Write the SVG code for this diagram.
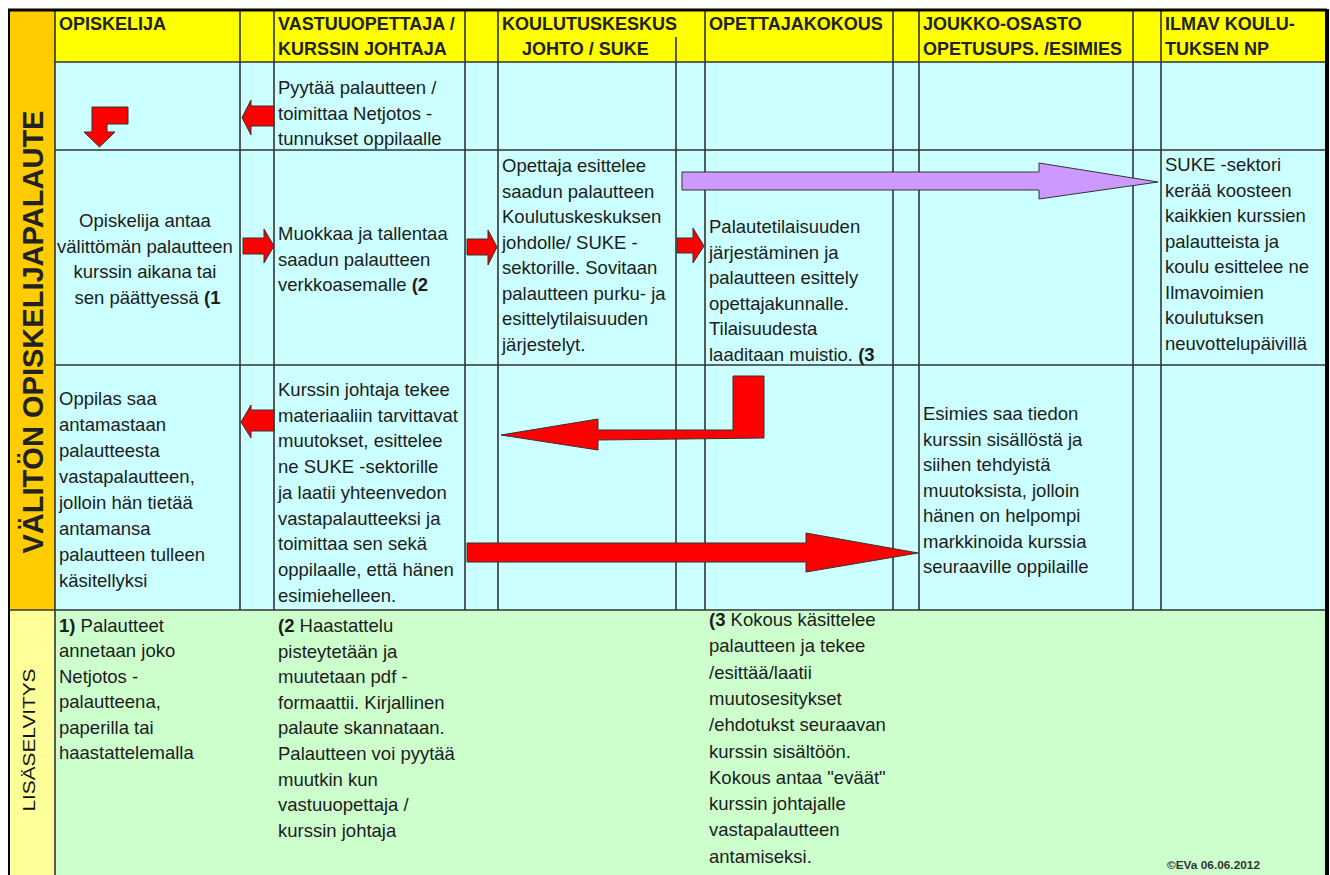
<svg xmlns="http://www.w3.org/2000/svg" width="1330" height="875" viewBox="0 0 1330 875">
<style>
.hd{font-family:"Liberation Sans",Arial,sans-serif;font-size:18px;font-weight:bold;fill:#222}
.tx{font-family:"Liberation Sans",Arial,sans-serif;font-size:18.5px;fill:#1c1c1c}
.b{font-weight:bold}
.grid{stroke:#333;stroke-width:1.6;fill:none}
.red{fill:#ff0000;stroke:#333;stroke-width:1}
.pur{fill:#cc99ff;stroke:#333;stroke-width:1}
</style>
<rect x="0" y="0" width="1330" height="875" fill="#ffffff"/>
<!-- backgrounds -->
<rect x="9" y="10" width="46" height="600" fill="#ffcc00"/>
<rect x="9" y="610" width="46" height="265" fill="#ffff99"/>
<rect x="55" y="10" width="1272" height="52" fill="#ffff00"/>
<rect x="55" y="62" width="1272" height="548" fill="#ccffff"/>
<rect x="55" y="610" width="1272" height="265" fill="#ccffcc"/>
<!-- grid -->
<g id="grid" class="grid">
<line x1="55" y1="10" x2="55" y2="875"/>
<line x1="240" y1="10" x2="240" y2="610"/>
<line x1="274" y1="10" x2="274" y2="610"/>
<line x1="465" y1="10" x2="465" y2="610"/>
<line x1="498" y1="10" x2="498" y2="610"/>
<line x1="676" y1="37" x2="676" y2="610"/>
<line x1="705" y1="10" x2="705" y2="610"/>
<line x1="893" y1="10" x2="893" y2="610"/>
<line x1="919" y1="10" x2="919" y2="610"/>
<line x1="1133" y1="10" x2="1133" y2="610"/>
<line x1="1161" y1="10" x2="1161" y2="610"/>
<line x1="55" y1="62" x2="1327" y2="62"/>
<line x1="55" y1="150" x2="1327" y2="150"/>
<line x1="55" y1="365" x2="1327" y2="365"/>
<line x1="9" y1="610" x2="1327" y2="610"/>
<line x1="8" y1="10" x2="1327" y2="10" stroke="#000" stroke-width="3"/>
<line x1="9" y1="9" x2="9" y2="875" stroke="#000" stroke-width="2"/>
<line x1="1327" y1="9" x2="1327" y2="875" stroke="#000" stroke-width="4"/>
</g>
<!-- side labels -->
<g id="side-title">
<text class="hd" transform="translate(43,332) rotate(-90)" text-anchor="middle" textLength="443" lengthAdjust="spacingAndGlyphs" style="font-size:29px">VÄLITÖN OPISKELIJAPALAUTE</text>
</g>
<g id="side-lisa">
<text class="tx" transform="translate(35,740) rotate(-90)" text-anchor="middle" textLength="143" lengthAdjust="spacingAndGlyphs" style="font-size:17px;fill:#111">LISÄSELVITYS</text>
</g>
<!-- headers -->
<g id="h-opiskelija"><text class="hd" x="59" y="30">OPISKELIJA</text></g>
<g id="h-vastuu"><text class="hd" x="278" y="30">VASTUUOPETTAJA /</text><text class="hd" x="278" y="54.5">KURSSIN JOHTAJA</text></g>
<g id="h-koulutus"><text class="hd" x="502" y="30">KOULUTUSKESKUS</text><text class="hd" x="522" y="54.5">JOHTO / SUKE</text></g>
<g id="h-opettajakokous"><text class="hd" x="709" y="30">OPETTAJAKOKOUS</text></g>
<g id="h-joukko"><text class="hd" x="923" y="30">JOUKKO-OSASTO</text><text class="hd" x="923" y="54.5">OPETUSUPS. /ESIMIES</text></g>
<g id="h-ilmav"><text class="hd" x="1165" y="30">ILMAV KOULU-</text><text class="hd" x="1165" y="54.5">TUKSEN NP</text></g>
<!-- row 1 -->
<g id="n-pyytaa"><text class="tx">
<tspan x="278" y="94">Pyytää palautteen /</tspan>
<tspan x="278" y="119.5">toimittaa Netjotos -</tspan>
<tspan x="278" y="145">tunnukset oppilaalle</tspan></text></g>
<!-- row 2 -->
<g id="n-opiskelija-antaa"><text class="tx" text-anchor="middle">
<tspan x="147.5" y="227">Opiskelija antaa</tspan>
<tspan x="147.5" y="252.5">välittömän palautteen</tspan>
<tspan x="147.5" y="278">kurssin aikana tai</tspan>
<tspan x="147.5" y="303.5">sen päättyessä <tspan class="b">(1</tspan></tspan></text></g>
<g id="n-muokkaa"><text class="tx">
<tspan x="278" y="240">Muokkaa ja tallentaa</tspan>
<tspan x="278" y="265.5">saadun palautteen</tspan>
<tspan x="278" y="291">verkkoasemalle <tspan class="b">(2</tspan></tspan></text></g>
<g id="n-opettaja-esittelee"><text class="tx">
<tspan x="502" y="172">Opettaja esittelee</tspan>
<tspan x="502" y="197.5">saadun palautteen</tspan>
<tspan x="502" y="223">Koulutuskeskuksen</tspan>
<tspan x="502" y="248.5">johdolle/ SUKE -</tspan>
<tspan x="502" y="274">sektorille. Sovitaan</tspan>
<tspan x="502" y="299.5">palautteen purku- ja</tspan>
<tspan x="502" y="325">esittelytilaisuuden</tspan>
<tspan x="502" y="350.5">järjestelyt.</tspan></text></g>
<g id="n-palautetilaisuus"><text class="tx">
<tspan x="709" y="233">Palautetilaisuuden</tspan>
<tspan x="709" y="258.5">järjestäminen ja</tspan>
<tspan x="709" y="284">palautteen esittely</tspan>
<tspan x="709" y="309.5">opettajakunnalle.</tspan>
<tspan x="709" y="335">Tilaisuudesta</tspan>
<tspan x="709" y="360.5">laaditaan muistio. <tspan class="b">(3</tspan></tspan></text></g>
<g id="n-suke-sektori"><text class="tx">
<tspan x="1165" y="171">SUKE -sektori</tspan>
<tspan x="1165" y="196.5">kerää koosteen</tspan>
<tspan x="1165" y="222">kaikkien kurssien</tspan>
<tspan x="1165" y="247.5">palautteista ja</tspan>
<tspan x="1165" y="273">koulu esittelee ne</tspan>
<tspan x="1165" y="298.5">Ilmavoimien</tspan>
<tspan x="1165" y="324">koulutuksen</tspan>
<tspan x="1165" y="349.5">neuvottelupäivillä</tspan></text></g>
<!-- row 3 -->
<g id="n-oppilas-saa"><text class="tx">
<tspan x="59" y="405">Oppilas saa</tspan>
<tspan x="59" y="431">antamastaan</tspan>
<tspan x="59" y="457">palautteesta</tspan>
<tspan x="59" y="483">vastapalautteen,</tspan>
<tspan x="59" y="509">jolloin hän tietää</tspan>
<tspan x="59" y="535">antamansa</tspan>
<tspan x="59" y="561">palautteen tulleen</tspan>
<tspan x="59" y="587">käsitellyksi</tspan></text></g>
<g id="n-kurssin-johtaja"><text class="tx">
<tspan x="278" y="396">Kurssin johtaja tekee</tspan>
<tspan x="278" y="421.7">materiaaliin tarvittavat</tspan>
<tspan x="278" y="447.4">muutokset, esittelee</tspan>
<tspan x="278" y="473.1">ne SUKE -sektorille</tspan>
<tspan x="278" y="498.8">ja laatii yhteenvedon</tspan>
<tspan x="278" y="524.5">vastapalautteeksi ja</tspan>
<tspan x="278" y="550.2">toimittaa sen sekä</tspan>
<tspan x="278" y="575.9">oppilaalle, että hänen</tspan>
<tspan x="278" y="601.6">esimiehelleen.</tspan></text></g>
<g id="n-esimies"><text class="tx">
<tspan x="923" y="420">Esimies saa tiedon</tspan>
<tspan x="923" y="445.5">kurssin sisällöstä ja</tspan>
<tspan x="923" y="471">siihen tehdyistä</tspan>
<tspan x="923" y="496.5">muutoksista, jolloin</tspan>
<tspan x="923" y="522">hänen on helpompi</tspan>
<tspan x="923" y="547.5">markkinoida kurssia</tspan>
<tspan x="923" y="573">seuraaville oppilaille</tspan></text></g>
<!-- row 4 -->
<g id="n-note1"><text class="tx">
<tspan x="59" y="632"><tspan class="b">1)</tspan> Palautteet</tspan>
<tspan x="59" y="657.4">annetaan joko</tspan>
<tspan x="59" y="682.8">Netjotos -</tspan>
<tspan x="59" y="708.2">palautteena,</tspan>
<tspan x="59" y="733.6">paperilla tai</tspan>
<tspan x="59" y="759">haastattelemalla</tspan></text></g>
<g id="n-note2"><text class="tx">
<tspan x="278" y="632"><tspan class="b">(2</tspan> Haastattelu</tspan>
<tspan x="278" y="657.6">pisteytetään ja</tspan>
<tspan x="278" y="683.2">muutetaan pdf -</tspan>
<tspan x="278" y="708.8">formaattii. Kirjallinen</tspan>
<tspan x="278" y="734.4">palaute skannataan.</tspan>
<tspan x="278" y="760">Palautteen voi pyytää</tspan>
<tspan x="278" y="785.6">muutkin kun</tspan>
<tspan x="278" y="811.2">vastuuopettaja /</tspan>
<tspan x="278" y="836.8">kurssin johtaja</tspan></text></g>
<g id="n-note3"><text class="tx">
<tspan x="709" y="626"><tspan class="b">(3</tspan> Kokous käsittelee</tspan>
<tspan x="709" y="652.3">palautteen ja tekee</tspan>
<tspan x="709" y="678.6">/esittää/laatii</tspan>
<tspan x="709" y="704.9">muutosesitykset</tspan>
<tspan x="709" y="731.2">/ehdotukst seuraavan</tspan>
<tspan x="709" y="757.5">kurssin sisältöön.</tspan>
<tspan x="709" y="783.8">Kokous antaa "eväät"</tspan>
<tspan x="709" y="810.1">kurssin johtajalle</tspan>
<tspan x="709" y="836.4">vastapalautteen</tspan>
<tspan x="709" y="862.7">antamiseksi.</tspan></text></g>
<g id="n-copyright"><text x="1167" y="869" textLength="93" lengthAdjust="spacingAndGlyphs" style="font-family:'Liberation Sans',Arial,sans-serif;font-size:11px;font-weight:bold;fill:#333">©EVa 06.06.2012</text></g>
<!-- connectors -->
<g id="connectors">
<polygon class="red" points="128,107 128,124 107,124 107,132 115,132 99.5,147 84,132 92,132 92,107"/>
<polygon class="red" points="274,106 251,106 251,100 242,117.5 251,135 251,126 274,126"/>
<polygon class="red" points="243,238 264,238 264,229 274,246 264,263 264,254 243,254"/>
<polygon class="red" points="467,239 488,239 488,230 497,247 488,265 488,255 467,255"/>
<polygon class="red" points="677,238 693,238 693,228 704,246 693,263 693,253 677,253"/>
<polygon class="pur" points="682,172 1039,172 1039,163 1158,182 1039,199 1039,190 682,190"/>
<polygon class="red" points="764,376 764,438 598,440 598,450 501,435 598,419 598,430 733,430 733,376"/>
<polygon class="red" points="274,410 251,410 251,405 241,422 251,438 251,431 274,431"/>
<polygon class="red" points="467,543 806,543 806,533 918,553 806,572 806,562 467,562"/>
</g>
</svg>
